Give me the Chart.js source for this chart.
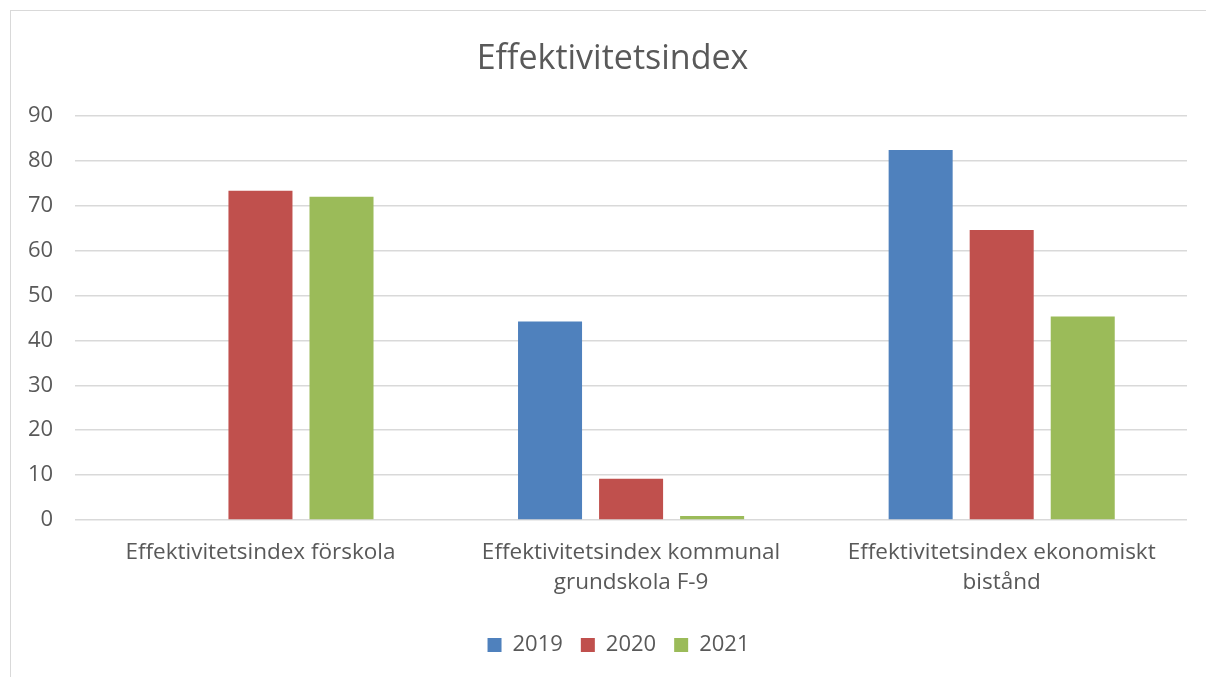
<!DOCTYPE html>
<html>
<head>
<meta charset="utf-8">
<script src="https://cdn.jsdelivr.net/npm/chart.js@4.4.0/dist/chart.umd.min.js"></script>
<style>
    html, body { margin: 0; padding: 0; background: #fff; }
    #wrap { position: relative; width: 1206px; height: 677px; overflow: hidden; }
    #frame { position: absolute; left: 10px; top: 10px; width: 1300px; height: 800px; border: 1px solid #d9d9d9; box-sizing: border-box; }
    #holder { position: absolute; left: 0; top: 0; width: 1206px; height: 677px; }
</style>
</head>
<body>
<div id="wrap">
    <div id="frame"></div>
    <div id="holder"><canvas id="myChart"></canvas></div>
</div>
<script>
// Data
const categories = [
    'Effektivitetsindex förskola',
    ['Effektivitetsindex kommunal', 'grundskola F-9'],
    ['Effektivitetsindex ekonomiskt', 'bistånd']
];
const values2019 = [0, 44.2, 82.4];
const values2020 = [73.3, 9.2, 64.6];
const values2021 = [72.0, 0.9, 45.3];
const yTicks = [0, 10, 20, 30, 40, 50, 60, 70, 80, 90];

const textColor = '#595959';
const fontFamily = '"Open Sans", Lato, sans-serif';

// title and legend sit centred on the whole frame, not on the padded area
const shiftBlocks = {
    id: 'shiftBlocks',
    afterLayout(chart) {
        chart.titleBlock.left += 32;
        chart.legend.left += 44;
    }
};

document.addEventListener('DOMContentLoaded', function () {
    const ctx = document.getElementById('myChart').getContext('2d');
    new Chart(ctx, {
        type: 'bar',
        data: {
            labels: categories,
            datasets: [
                { label: '2019', data: values2019, backgroundColor: '#4f81bd' },
                { label: '2020', data: values2020, backgroundColor: '#c0504d' },
                { label: '2021', data: values2021, backgroundColor: '#9bbb59' }
            ]
        },
        options: {
            responsive: true,
            maintainAspectRatio: false,
            animation: false,
            datasets: {
                bar: { categoryPercentage: 0.656, barPercentage: 0.79 }
            },
            layout: { padding: { left: 6, right: 19, top: 39, bottom: 11 } },
            plugins: {
                title: {
                    display: true,
                    text: 'Effektivitetsindex',
                    color: textColor,
                    font: { family: fontFamily, size: 34, weight: 'normal' },
                    padding: { top: 0, bottom: 36 }
                },
                legend: {
                    position: 'bottom',
                    labels: {
                        color: textColor,
                        font: { family: fontFamily, size: 22 },
                        boxWidth: 14,
                        boxHeight: 14,
                        padding: 18
                    }
                },
                tooltip: { enabled: false }
            },
            scales: {
                x: {
                    grid: { display: false, drawTicks: false },
                    border: { display: false },
                    ticks: {
                        color: textColor,
                        font: { family: fontFamily, size: 22.5, lineHeight: 1.333 },
                        maxRotation: 0,
                        padding: 18
                    }
                },
                y: {
                    min: 0,
                    max: 90,
                    afterBuildTicks: function (axis) {
                        axis.ticks = yTicks.map(v => ({ value: v }));
                    },
                    grid: { color: '#d9d9d9', lineWidth: 1.5, drawTicks: false },
                    border: { display: false },
                    ticks: {
                        color: textColor,
                        font: { family: fontFamily, size: 22 },
                        padding: 22
                    }
                }
            }
        },
        plugins: [shiftBlocks]
    });
});
</script>
</body>
</html>
